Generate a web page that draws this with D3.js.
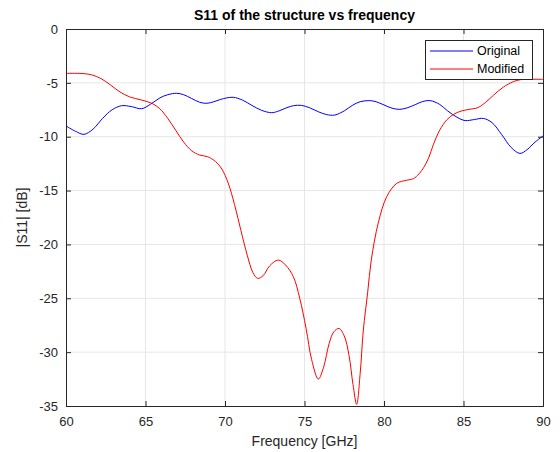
<!DOCTYPE html>
<html><head><meta charset="utf-8">
<script src="https://cdn.jsdelivr.net/npm/d3@7"></script>
<style>body{margin:0;background:#fff;} svg{display:block;}</style>
</head><body>
<svg id="c" width="560" height="452"></svg>
<script>
const xTicks = [60,65,70,75,80,85,90];
const yTicks = [0,-5,-10,-15,-20,-25,-30,-35];
const seriesNames = ["Original","Modified"];
const originalF = [60,60.6,61.13,61.7,62.3,62.9,63.5,64.1,64.76,65.3,65.9,66.4,66.96,67.4,67.9,68.4,68.85,69.3,69.7,70.1,70.52,71.1,71.7,72.3,72.94,73.4,73.9,74.3,74.8,75.3,75.9,76.4,76.9,77.5,78.0,78.5,79.1,79.5,80.0,80.5,81.0,81.5,82.0,82.4,82.9,83.5,84.0,84.6,85.1,85.7,86.25,86.8,87.4,88.0,88.55,89.0,89.5,90];
const originalV = [-9.0,-9.5,-9.78,-9.3,-8.3,-7.5,-7.12,-7.2,-7.4,-7.0,-6.4,-6.1,-5.97,-6.1,-6.45,-6.8,-6.9,-6.75,-6.55,-6.4,-6.34,-6.6,-7.1,-7.55,-7.77,-7.6,-7.3,-7.12,-7.09,-7.3,-7.7,-7.95,-7.99,-7.6,-7.1,-6.75,-6.65,-6.75,-7.05,-7.35,-7.46,-7.3,-7.0,-6.75,-6.65,-7.0,-7.6,-8.2,-8.5,-8.4,-8.3,-8.7,-9.8,-11.0,-11.55,-11.2,-10.5,-9.93];
const modifiedF = [60,61.0,61.6,62.2,62.8,63.4,64.0,64.76,65.4,65.9,66.4,66.9,67.4,67.9,68.4,68.9,69.4,69.8,70.2,70.6,71.0,71.4,71.75,72.05,72.4,72.8,73.35,73.8,74.3,74.7,75.1,75.45,75.87,76.2,76.55,76.85,77.17,77.5,77.8,78.05,78.28,78.5,78.7,78.97,79.2,79.64,80.17,80.8,81.4,81.84,82.2,82.5,82.8,83.1,83.5,83.94,84.4,84.9,85.4,85.9,86.4,86.9,87.5,88.13,88.6,89.2,90];
const modifiedV = [-4.12,-4.13,-4.25,-4.6,-5.2,-5.85,-6.3,-6.6,-6.9,-7.4,-8.3,-9.4,-10.5,-11.3,-11.7,-11.85,-12.3,-13.0,-14.3,-16.3,-18.7,-21.0,-22.6,-23.15,-22.9,-22.0,-21.45,-21.9,-23.0,-25.0,-27.8,-30.7,-32.5,-31.4,-29.2,-28.1,-27.8,-28.5,-30.3,-33.0,-34.85,-32.0,-27.95,-24.5,-21.45,-18.0,-15.57,-14.33,-14.05,-13.9,-13.45,-12.85,-12.0,-10.75,-9.4,-8.45,-7.9,-7.6,-7.45,-7.3,-6.8,-6.13,-5.4,-4.89,-4.7,-4.67,-4.67];
const colors = ["#0000ff","#ff0000"];

const svg = d3.select("#c");
const L=66, R=543, T=29, B=406;
const x = d3.scaleLinear().domain([60,90]).range([L,R]);
const y = d3.scaleLinear().domain([-35,0]).range([B,T]);
const font = "'Liberation Sans', Arial, Helvetica, sans-serif";

// grid
const g = svg.append("g");
g.selectAll(".gx").data(xTicks.slice(1,-1)).enter().append("line")
  .attr("x1",d=>x(d)).attr("x2",d=>x(d)).attr("y1",T).attr("y2",B)
  .attr("stroke","#e6e6e6").attr("stroke-width",1);
g.selectAll(".gy").data(yTicks.slice(1,-1)).enter().append("line")
  .attr("y1",d=>y(d)).attr("y2",d=>y(d)).attr("x1",L).attr("x2",R)
  .attr("stroke","#e6e6e6").attr("stroke-width",1);

// lines
const line = d3.line().curve(d3.curveCatmullRom.alpha(0.5));
const data = [originalF.map((f,i)=>[x(f),y(originalV[i])]), modifiedF.map((f,i)=>[x(f),y(modifiedV[i])])];
svg.append("g").selectAll("path").data(data).enter().append("path")
  .attr("d",d=>line(d)).attr("fill","none").style("stroke",(d,i)=>colors[i]).attr("stroke-width",1);

// axes
const ax = d3.axisBottom(x).tickValues(xTicks).tickSize(-5).tickPadding(8).tickFormat(d3.format("d"));
const ay = d3.axisLeft(y).tickValues(yTicks).tickSize(-5).tickPadding(8).tickFormat(d=>d===0?"0":String(d));
const gx = svg.append("g").attr("transform",`translate(0,${B})`).call(ax);
const gy = svg.append("g").attr("transform",`translate(${L},0)`).call(ay);
const gx2 = svg.append("g").attr("transform",`translate(0,${T})`).call(d3.axisTop(x).tickValues(xTicks).tickSize(-5).tickFormat(""));
const gy2 = svg.append("g").attr("transform",`translate(${R},0)`).call(d3.axisRight(y).tickValues(yTicks).tickSize(-5).tickFormat(""));
[gx,gy,gx2,gy2].forEach(a=>{
  a.selectAll("path").attr("stroke","#262626").attr("stroke-width",1);
  a.selectAll("line").attr("stroke","#262626");
  a.selectAll("text").attr("font-family",font).attr("font-size",13).attr("fill","#262626");
});
gx.selectAll("text").attr("dy","0.9em");

// labels
svg.append("text").attr("x",(L+R)/2).attr("y",20).attr("text-anchor","middle")
  .attr("font-family",font).attr("font-size",14).attr("font-weight","bold").attr("fill","#000")
  .text("S11 of the structure vs frequency");
svg.append("text").attr("x",(L+R)/2).attr("y",446).attr("text-anchor","middle")
  .attr("font-family",font).attr("font-size",14).attr("fill","#262626").text("Frequency [GHz]");
svg.append("text").attr("transform",`translate(27,${(T+B)/2}) rotate(-90)`).attr("text-anchor","middle")
  .attr("font-family",font).attr("font-size",14).attr("fill","#262626").text("|S11| [dB]");

// legend
const lg = svg.append("g");
lg.append("rect").attr("x",425.5).attr("y",40.5).attr("width",107).attr("height",39)
  .attr("fill","#fff").attr("stroke","#262626").attr("stroke-width",1);
seriesNames.forEach((n,i)=>{
  const yy = 51 + i*18;
  lg.append("path").attr("d",`M430,${yy}H473`).attr("fill","none")
    .style("stroke",colors[i]).style("stroke-width","1.2px");
  lg.append("text").attr("x",477).attr("y",yy).attr("dy","0.35em").attr("font-family",font).attr("font-size",12.5)
    .attr("fill","#000").text(n);
});
</script>
</body></html>
